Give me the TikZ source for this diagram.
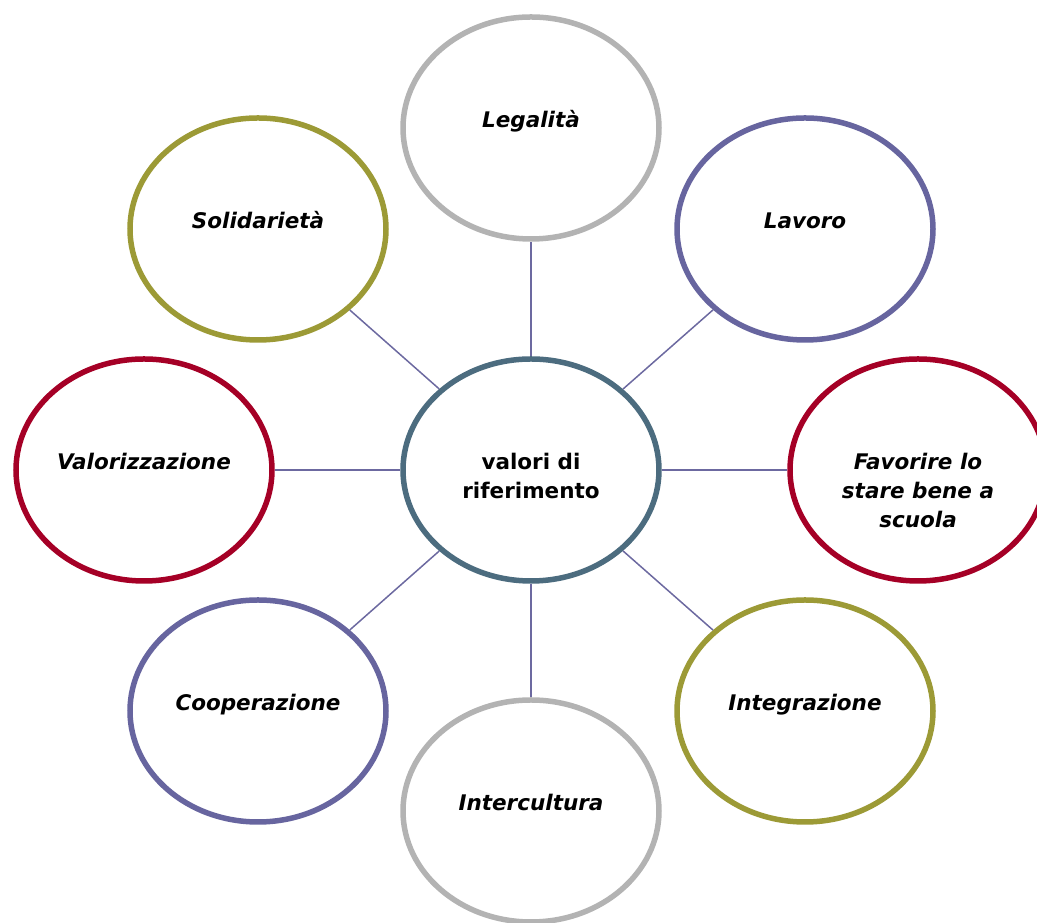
\documentclass[tikz,border=0pt]{standalone}
\usepackage{fontspec}
\setmainfont{DejaVu Sans}
\usetikzlibrary{shapes.geometric}
\definecolor{cgray}{HTML}{B3B3B3}
\definecolor{cpurple}{HTML}{67659F}
\definecolor{cred}{HTML}{A50026}
\definecolor{colive}{HTML}{9C9A36}
\definecolor{ccenter}{HTML}{4C6C7F}
\definecolor{cline}{HTML}{6C69A0}
\begin{document}
\begin{tikzpicture}[x=1pt,y=1pt,
  bub/.style={ellipse,draw=#1,line width=5.5pt,fill=white,minimum width=256pt,minimum height=222pt,inner sep=0pt},
  lab/.style={anchor=base,inner sep=0pt,font=\fontsize{21.5}{29}\selectfont\bfseries\itshape},
  clab/.style={anchor=base,inner sep=0pt,font=\fontsize{21.5}{29}\selectfont\bfseries},
  conn/.style={draw=cline,line width=1.5pt}]
\useasboundingbox (0,0) rectangle (1037,923);
\node[bub=ccenter] (c) at (531,453) {};
\node[bub=cgray] (n1) at (531,795) {};
\node[bub=cpurple] (n2) at (805,694) {};
\node[bub=cred] (n3) at (918,453) {};
\node[bub=colive] (n4) at (805,212) {};
\node[bub=cgray] (n5) at (531,112) {};
\node[bub=cpurple] (n6) at (258,212) {};
\node[bub=cred] (n7) at (144,453) {};
\node[bub=colive] (n8) at (258,694) {};
\foreach \i in {1,...,8} {\path[conn] (c) -- (n\i);}
\node[clab] (tc) at (c.center) {\begin{tabular}[t]{@{}c@{}}valori di\\riferimento\end{tabular}};
\node[lab] (t1) at (n1.center) {\begin{tabular}[t]{@{}c@{}}Legalità\end{tabular}};
\node[lab] (t2) at (n2.center) {\begin{tabular}[t]{@{}c@{}}Lavoro\end{tabular}};
\node[lab] (t3) at (n3.center) {\begin{tabular}[t]{@{}c@{}}Favorire lo\\stare bene a\\scuola\end{tabular}};
\node[lab] (t4) at (n4.center) {\begin{tabular}[t]{@{}c@{}}Integrazione\end{tabular}};
\node[lab] (t5) at (n5.center) {\begin{tabular}[t]{@{}c@{}}Intercultura\end{tabular}};
\node[lab] (t6) at (n6.center) {\begin{tabular}[t]{@{}c@{}}Cooperazione\end{tabular}};
\node[lab] (t7) at (n7.center) {\begin{tabular}[t]{@{}c@{}}Valorizzazione\end{tabular}};
\node[lab] (t8) at (n8.center) {\begin{tabular}[t]{@{}c@{}}Solidarietà\end{tabular}};
\end{tikzpicture}
\end{document}
